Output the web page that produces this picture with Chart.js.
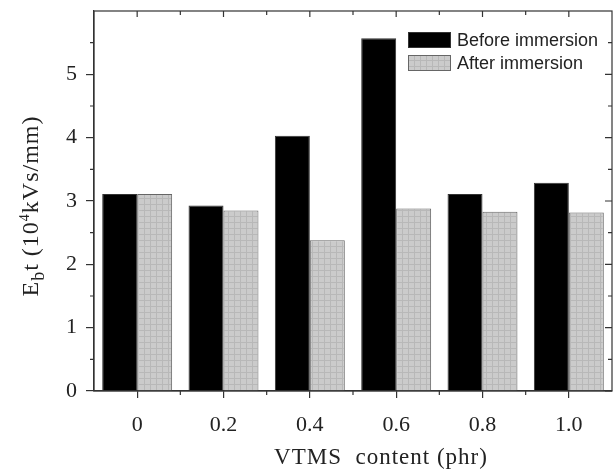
<!DOCTYPE html>
<html>
<head>
<meta charset="utf-8">
<script src="https://cdn.jsdelivr.net/npm/chart.js"></script>
<style>
  html, body { margin: 0; padding: 0; background: #fff; }
  #wrap { width: 614px; height: 472px; }
</style>
</head>
<body>
<div id="wrap"><canvas id="chart" width="614" height="472"></canvas></div>
<script>
// data
const categories = ["0", "0.2", "0.4", "0.6", "0.8", "1.0"];
const beforeValues = [3.11, 2.93, 4.03, 5.57, 3.11, 3.29];
const afterValues = [3.11, 2.85, 2.38, 2.88, 2.83, 2.82];
const yTickValues = [0, 1, 2, 3, 4, 5];
const yMinorValues = [0.5, 1.5, 2.5, 3.5, 4.5, 5.5];
const seriesLabels = ["Before immersion", "After immersion"];

const SERIF = "'Liberation Serif', 'Times New Roman', serif";
const SANS = "'Liberation Sans', Arial, sans-serif";
const INK = "#222";

// light grey plaid fill for the "after" bars
function makePattern() {
  const c = document.createElement("canvas");
  c.width = 6; c.height = 6;
  const g = c.getContext("2d");
  g.fillStyle = "#cbcbcb";
  g.fillRect(0, 0, 6, 6);
  g.fillStyle = "#b8b8b8";
  g.fillRect(0, 0, 6, 1);
  g.fillRect(0, 0, 1, 6);
  return g.createPattern(c, "repeat");
}
const greyFill = makePattern();

// frame, mirrored ticks, minor ticks, legend and axis titles
const extras = {
  id: "extras",
  afterDraw(chart) {
    const { ctx, chartArea: a, scales } = chart;
    const x = scales.x, y = scales.y;
    ctx.save();

    ctx.strokeStyle = "#333";
    ctx.lineWidth = 1.2;
    ctx.strokeRect(a.left, a.top, a.right - a.left, a.bottom - a.top);

    ctx.beginPath();
    // category centres and the gaps between them
    categories.forEach((c, i) => {
      const px = x.getPixelForValue(i);
      ctx.moveTo(px, a.top); ctx.lineTo(px, a.top + 6);
      if (i > 0) {
        const mid = (x.getPixelForValue(i - 1) + px) / 2;
        ctx.moveTo(mid, a.bottom); ctx.lineTo(mid, a.bottom + 4);
        ctx.moveTo(mid, a.top); ctx.lineTo(mid, a.top + 4);
      }
    });
    yTickValues.forEach(v => {
      const py = y.getPixelForValue(v);
      ctx.moveTo(a.right, py); ctx.lineTo(a.right - 7, py);
    });
    yMinorValues.forEach(v => {
      const py = y.getPixelForValue(v);
      ctx.moveTo(a.left, py); ctx.lineTo(a.left - 4, py);
      ctx.moveTo(a.right, py); ctx.lineTo(a.right - 4, py);
    });
    ctx.stroke();

    // legend
    const fills = ["#000", greyFill];
    const borders = ["#333", "#666"];
    seriesLabels.forEach((lab, i) => {
      const top = 32 + i * 23;
      ctx.fillStyle = fills[i];
      ctx.fillRect(408, top, 43, 16);
      ctx.strokeStyle = borders[i];
      ctx.lineWidth = 1;
      ctx.strokeRect(408.5, top + 0.5, 42, 15);
      ctx.fillStyle = INK;
      ctx.font = "18px " + SANS;
      ctx.textAlign = "left";
      ctx.textBaseline = "middle";
      ctx.fillText(lab, 457, top + 9);
    });

    // x title
    ctx.fillStyle = INK;
    ctx.font = "23px " + SERIF;
    ctx.letterSpacing = "1px";
    ctx.textAlign = "center";
    ctx.textBaseline = "middle";
    ctx.fillText("VTMS  content (phr)", 381, 458);

    // y title with subscript and superscript
    const parts = [
      { t: "E", f: "24px " + SERIF, dy: 0 },
      { t: "b", f: "18px " + SERIF, dy: 6 },
      { t: "t (10", f: "24px " + SERIF, dy: 0 },
      { t: "4", f: "14px " + SERIF, dy: -9 },
      { t: "kVs/mm)", f: "24px " + SERIF, dy: 0 }
    ];
    ctx.letterSpacing = "1px";
    let total = 0;
    parts.forEach(p => { ctx.font = p.f; p.w = ctx.measureText(p.t).width; total += p.w; });
    ctx.translate(38, 206);
    ctx.rotate(-Math.PI / 2);
    ctx.textAlign = "left";
    ctx.textBaseline = "alphabetic";
    let cx = -total / 2;
    parts.forEach(p => {
      ctx.font = p.f;
      ctx.fillText(p.t, cx, p.dy);
      cx += p.w;
    });

    ctx.restore();
  }
};

new Chart(document.getElementById("chart"), {
  type: "bar",
  data: {
    labels: categories,
    datasets: [
      {
        label: seriesLabels[0],
        data: beforeValues,
        backgroundColor: "#000",
        borderColor: "#333",
        borderWidth: 1,
        borderSkipped: "bottom"
      },
      {
        label: seriesLabels[1],
        data: afterValues,
        backgroundColor: greyFill,
        borderColor: "#666",
        borderWidth: 1,
        borderSkipped: "bottom"
      }
    ]
  },
  options: {
    responsive: false,
    animation: false,
    devicePixelRatio: 1,
    categoryPercentage: 0.81,
    barPercentage: 1.0,
    layout: { padding: { top: 11, right: 2, left: 0, bottom: 0 } },
    plugins: {
      legend: { display: false },
      tooltip: { enabled: false }
    },
    scales: {
      x: {
        offset: true,
        grid: { display: true, drawOnChartArea: false, drawTicks: true, tickLength: 7, color: "#333", lineWidth: 1.2, offset: false },
        border: { display: true, color: "#333", width: 1.2 },
        ticks: { color: INK, font: { family: SERIF, size: 22 }, padding: 14, maxRotation: 0 },
        afterFit: s => { s.height = 81; s.paddingLeft = 0; s.paddingRight = 0; }
      },
      y: {
        min: 0,
        max: 6,
        afterBuildTicks: s => { s.ticks = yTickValues.map(v => ({ value: v })); },
        grid: { display: true, drawOnChartArea: false, drawTicks: true, tickLength: 8, color: "#333", lineWidth: 1.2 },
        border: { display: true, color: "#333", width: 1.2 },
        ticks: { color: INK, font: { family: SERIF, size: 22 }, padding: 9 },
        afterFit: s => { s.width = 94; s.paddingTop = 0; s.paddingBottom = 0; }
      }
    }
  },
  plugins: [extras]
});
</script>
</body>
</html>
